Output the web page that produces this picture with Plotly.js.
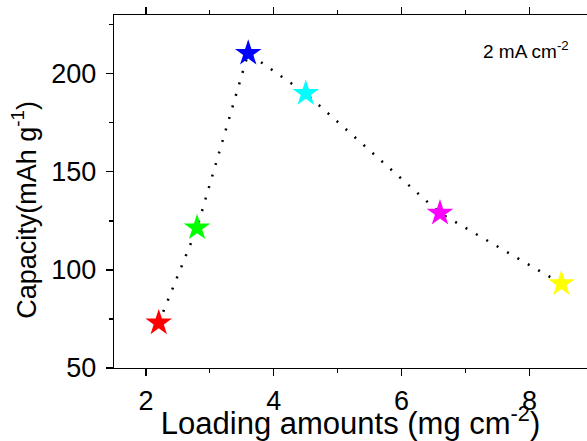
<!DOCTYPE html>
<html>
<head>
<meta charset="utf-8">
<script src="https://cdn.plot.ly/plotly-3.0.1.min.js"></script>
<style>html,body{margin:0;padding:0;background:#fff;}#chart{width:587px;height:441px;}</style>
</head>
<body>
<div id="chart"></div>
<script>
const loading = [2.2, 2.8, 3.6, 4.5, 6.6, 8.5];
const capacity = [73, 121.5, 210.5, 190, 129, 93];
const pointColors = ['#ff0000', '#00ff00', '#0000ff', '#00ffff', '#ff00ff', '#ffff00'];
const xTicks = [2, 4, 6, 8];
const yTicks = [50, 100, 150, 200];

const FONT = 'Liberation Sans, Arial, sans-serif';

const traces = [
  {
    x: loading, y: capacity, type: 'scatter', mode: 'lines',
    line: {color: '#000', width: 2.5, dash: '2px,10px'},
    hoverinfo: 'skip', showlegend: false
  },
  {
    x: loading, y: capacity, type: 'scatter', mode: 'markers',
    marker: {symbol: 'star', size: 20, color: pointColors, line: {width: 0}},
    showlegend: false
  }
];

const layout = {
  width: 587, height: 441,
  margin: {l: 114, r: 0, t: 15, b: 73},
  paper_bgcolor: '#fff', plot_bgcolor: '#fff',
  font: {family: FONT, color: '#000'},
  showlegend: false,
  xaxis: {
    range: [1.5, 8.9],
    tickvals: xTicks,
    ticks: 'outside', ticklen: 7, tickwidth: 1.2, tickcolor: '#000',
    minor: {dtick: 1, ticks: 'outside', ticklen: 4, tickwidth: 1.2, tickcolor: '#000'},
    showline: true, linecolor: '#000', linewidth: 1.3, mirror: 'ticks',
    showgrid: false, zeroline: false,
    ticklabelstandoff: 1,
    tickfont: {size: 27, family: FONT, color: '#000'},
    title: {text: 'Loading amounts (mg cm<sup>-2</sup>)', font: {size: 31, family: FONT, color: '#000'}, standoff: 0},
    automargin: false
  },
  yaxis: {
    range: [50, 230],
    tickvals: yTicks,
    ticks: 'outside', ticklen: 7, tickwidth: 1.2, tickcolor: '#000',
    minor: {dtick: 25, ticks: 'outside', ticklen: 4, tickwidth: 1.2, tickcolor: '#000'},
    showline: true, linecolor: '#000', linewidth: 1.3, mirror: false,
    showgrid: false, zeroline: false,
    ticklabelstandoff: 4,
    tickfont: {size: 27, family: FONT, color: '#000'},
    automargin: false
  },
  annotations: [
    {
      x: 7.95, y: 212, xref: 'x', yref: 'y',
      text: '2 mA cm<sup>-2</sup>', showarrow: false,
      font: {size: 19, family: FONT, color: '#000'},
      xanchor: 'center', yanchor: 'middle'
    },
    {
      x: -0.189, y: 0.447, xref: 'paper', yref: 'paper',
      text: 'Capacity(mAh g<sup>-1</sup>)', showarrow: false, textangle: -90,
      font: {size: 27, family: FONT, color: '#000'},
      xanchor: 'center', yanchor: 'middle'
    }
  ]
};

Plotly.newPlot('chart', traces, layout, {displayModeBar: false, staticPlot: true});
</script>
</body>
</html>
